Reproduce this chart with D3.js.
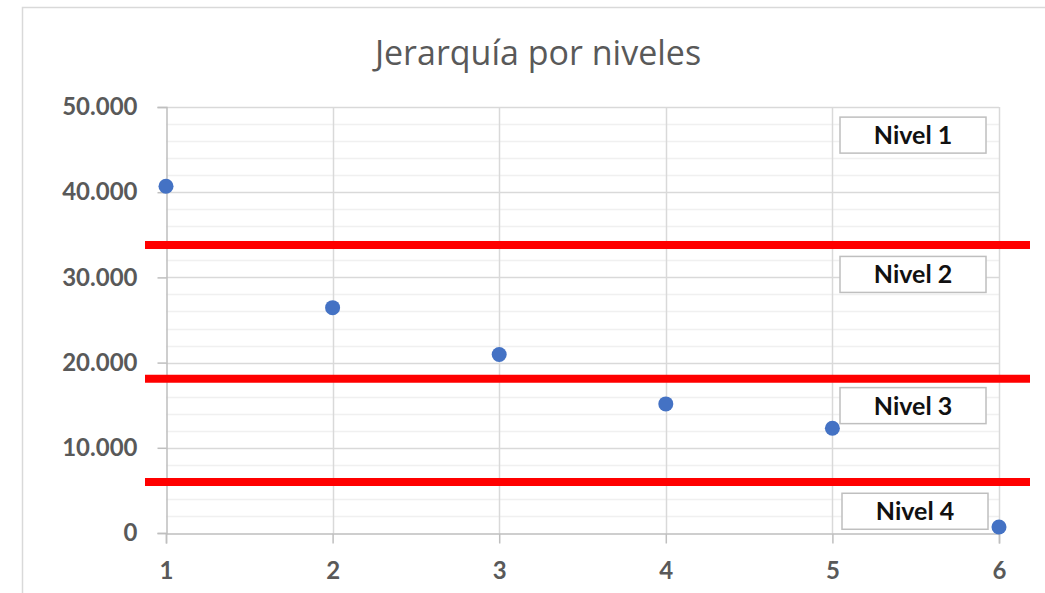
<!DOCTYPE html>
<html>
<head>
<meta charset="utf-8">
<script src="https://cdn.jsdelivr.net/npm/d3@7"></script>
<style>
  body { margin: 0; background: #fff; }
  svg { display: block; }
</style>
</head>
<body>
<svg width="1045" height="593"></svg>
<script>
// chart data
var xValues = [1, 2, 3, 4, 5, 6];
var yValues = [40700, 26450, 20950, 15150, 12300, 700];
var levelCuts = [33800, 18100, 6000];
var levelNames = ["Nivel 1", "Nivel 2", "Nivel 3", "Nivel 4"];
var yTicks = [0, 10000, 20000, 30000, 40000, 50000];
var title = "Jerarquía por niveles";

var svg = d3.select("svg");

// outer chart frame
svg.append("rect")
  .attr("x", 22.5).attr("y", 7.5)
  .attr("width", 1100).attr("height", 700)
  .attr("fill", "none")
  .attr("stroke", "#d9d9d9")
  .attr("stroke-width", 1.5);

var x = d3.scaleLinear().domain([1, 6]).range([166, 999]);
var y = d3.scaleLinear().domain([0, 50000]).range([533, 107]);

var fmt = d3.formatLocale({ decimal: ",", thousands: ".", grouping: [3], currency: ["", ""] }).format(",");

// minor gridlines
svg.append("g")
  .selectAll("line")
  .data(d3.range(0, 50001, 2000).filter(function (d) { return d % 10000 !== 0; }))
  .enter()
  .append("line")
  .attr("x1", x(1)).attr("x2", x(6))
  .attr("y1", function (d) { return Math.round(y(d)) + 0.5; })
  .attr("y2", function (d) { return Math.round(y(d)) + 0.5; })
  .attr("stroke", "#f0f0f0")
  .attr("stroke-width", 1.5);

// major horizontal gridlines
svg.append("g")
  .selectAll("line")
  .data(yTicks.slice(1))
  .enter()
  .append("line")
  .attr("x1", x(1)).attr("x2", x(6))
  .attr("y1", function (d) { return Math.round(y(d)) + 0.5; })
  .attr("y2", function (d) { return Math.round(y(d)) + 0.5; })
  .attr("stroke", "#d9d9d9")
  .attr("stroke-width", 1.5);

// vertical gridlines
svg.append("g")
  .selectAll("line")
  .data(xValues.slice(1))
  .enter()
  .append("line")
  .attr("x1", function (d) { return Math.round(x(d)) + 0.5; })
  .attr("x2", function (d) { return Math.round(x(d)) + 0.5; })
  .attr("y1", y(50000)).attr("y2", y(0))
  .attr("stroke", "#d9d9d9")
  .attr("stroke-width", 1.5);

// y axis
var yAxis = svg.append("g")
  .attr("transform", "translate(" + (x(1) + 0.5) + ",0)")
  .call(d3.axisLeft(y).tickValues(yTicks).tickFormat(fmt).tickSize(9).tickPadding(20));
yAxis.select(".domain").attr("stroke", "#bfbfbf").attr("stroke-width", 1.5);
yAxis.selectAll(".tick line").attr("stroke", "#bfbfbf").attr("stroke-width", 1.5);
yAxis.selectAll(".tick text")
  .attr("fill", "#595959")
  .attr("font-family", "Lato, 'Open Sans', sans-serif")
  .attr("font-weight", "bold")
  .attr("font-size", "24px");

// x axis
var xAxis = svg.append("g")
  .attr("transform", "translate(0," + (y(0) + 0.5) + ")")
  .call(d3.axisBottom(x).tickValues(xValues).tickFormat(d3.format("d")).tickSize(10).tickPadding(18));
xAxis.select(".domain").attr("stroke", "#bfbfbf").attr("stroke-width", 1.5);
xAxis.selectAll(".tick line").attr("stroke", "#bfbfbf").attr("stroke-width", 1.5);
xAxis.selectAll(".tick text")
  .attr("fill", "#595959")
  .attr("font-family", "Lato, 'Open Sans', sans-serif")
  .attr("font-weight", "bold")
  .attr("font-size", "24px");

// title
svg.append("text")
  .attr("x", 538)
  .attr("y", 65)
  .attr("text-anchor", "middle")
  .attr("fill", "#595959")
  .attr("font-family", "'Open Sans', Lato, sans-serif")
  .attr("font-size", "34px")
  .text(title);

// data points
svg.append("g")
  .selectAll("circle")
  .data(xValues)
  .enter()
  .append("circle")
  .attr("cx", function (d) { return x(d); })
  .attr("cy", function (d, i) { return y(yValues[i]); })
  .attr("r", 7.5)
  .attr("fill", "#4472c4");

// red level separators
svg.append("g")
  .selectAll("line")
  .data(levelCuts)
  .enter()
  .append("line")
  .attr("x1", 145).attr("x2", 1030)
  .attr("y1", function (d) { return y(d); })
  .attr("y2", function (d) { return y(d); })
  .attr("stroke", "#ff0000")
  .attr("stroke-width", 8);

// level label boxes
var labelCenters = [46700, 30350, 14950, 2550];
var boxes = svg.append("g")
  .selectAll("g")
  .data(levelNames)
  .enter()
  .append("g")
  .attr("transform", function (d, i) { return "translate(" + (i === 3 ? 915 : 913) + "," + y(labelCenters[i]) + ")"; });
boxes.append("rect")
  .attr("x", -73).attr("y", -18)
  .attr("width", 146).attr("height", 36)
  .attr("fill", "#fff")
  .attr("stroke", "#bfbfbf")
  .attr("stroke-width", 1.5);
boxes.append("text")
  .attr("text-anchor", "middle")
  .attr("dy", "0.36em")
  .attr("fill", "#111")
  .attr("font-family", "Lato, 'Open Sans', sans-serif")
  .attr("font-weight", "bold")
  .attr("font-size", "25px")
  .text(function (d) { return d; });
</script>
</body>
</html>
